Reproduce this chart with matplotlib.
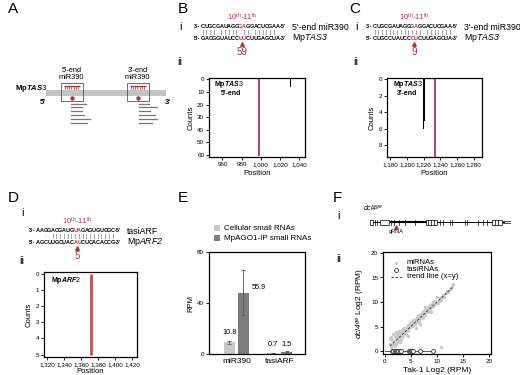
import matplotlib
matplotlib.use('Agg')
import matplotlib.pyplot as plt
from matplotlib.patches import Rectangle
from matplotlib.ticker import FuncFormatter

plt.rcParams['font.family'] = ['Liberation Sans', 'DejaVu Sans']
plt.rcParams['mathtext.fontset'] = 'custom'
plt.rcParams['mathtext.rm'] = 'Liberation Sans'
plt.rcParams['mathtext.it'] = 'Liberation Sans:italic:bold'
plt.rcParams['mathtext.bf'] = 'Liberation Sans:bold'
plt.rcParams['mathtext.sf'] = 'Liberation Sans:italic'

# ---------------- data ----------------
# Panel B / C / D sequences
b_mir = "CUGCGAUAGGGAGGACUCGAA"
b_pair = "|||| |||||.||.|||||| "
b_tgt = "GACGGUAUCCUUCUUGAGCUA"
c_mir = "CUGCGAUAGGGAGGACUCGAA"
c_pair = "|||||||||||||.|||||||"
c_tgt = "CUGCCUAUCCCUCUUGAGCUA"
d_mir = "AAGGACGAUGUAGAGUGUGGC"
d_pair = "  :.|||||||||||||||||"
d_tgt = "AGCUUGCUACAUCUCACACCG"
red_idx = [10, 11]
b_site_count = "59"
c_site_count = "9"
d_site_count = "5"

# Panel B degradome
b_pos = [1031]
b_cnt = [6]
b_cleave = 998
b_xticks = [960, 980, 1000, 1020, 1040]
b_yticks = [0, 10, 20, 30, 40, 50, 60]
# Panel C degradome
c_pos = [1220, 1221]
c_cnt = [6, 5.1]
c_cleave = 1234
c_xticks = [1180, 1200, 1220, 1240, 1260, 1280]
c_yticks = [0, 2, 4, 6, 8]
# Panel D degradome
d_cleave = 1372
d_cnt = 5
d_xticks = [1320, 1340, 1360, 1380, 1400, 1420]
d_yticks = [0, 1, 2, 3, 4, 5]

# Panel E
e_cats = ["miR390", "tasiARF"]
e_cell = [9.2, 0.5]
e_cell_err = [1.0, 0.3]
e_ago = [48.2, 1.5]
e_ago_err = [18.0, 0.6]
e_cell_lab = ["10.8", "0.7"]
e_ago_lab = ["55.9", "1.5"]

# Panel F
mir_x = [1.0, 1.1, 1.2, 1.3, 1.5, 1.6, 1.7, 1.8, 1.9, 2.0, 2.1, 2.2, 2.3, 2.4, 2.5, 2.6, 2.7,
         2.8, 2.9, 3.0, 3.1, 3.2, 3.3, 3.4, 3.5, 3.6, 3.7, 3.8, 3.9, 4.0, 4.1, 4.2, 4.3, 4.4,
         4.5, 4.6, 4.7, 4.8, 4.9, 5.0, 5.1, 5.2, 5.3, 5.4, 5.5, 5.6, 5.7, 5.8, 5.9, 6.0, 6.1,
         6.2, 6.3, 6.4, 6.5, 6.6, 6.7, 6.8, 6.9, 7.0, 7.1, 7.2, 7.3, 7.4, 7.5, 7.6, 7.7, 7.8,
         7.9, 8.0, 8.1, 8.3, 8.4, 8.6, 8.7, 8.9, 9.0, 9.2, 9.4, 9.5, 9.7, 9.9, 10.0, 10.2,
         10.4, 10.6, 10.8, 11.0, 11.2, 11.4, 11.7, 11.9, 12.1, 12.4, 12.6, 12.8, 13.0, 10.7,
         3.0, 4.4, 5.9, 6.7, 2.2, 7.8, 8.8, 1.4, 3.6, 5.2, 6.4, 7.3, 8.2, 9.3, 4.9, 2.6]
mir_y = [1.4, 2.4, 0.8, 2.9, 1.2, 3.4, 2.0, 1.7, 3.0, 1.0, 2.6, 3.8, 2.1, 3.3, 1.8, 3.0, 2.4,
         4.1, 2.7, 3.6, 2.2, 3.2, 4.3, 2.9, 3.9, 3.3, 4.6, 3.6, 4.0, 4.4, 3.5, 4.9, 4.1, 5.3,
         4.3, 5.0, 4.6, 5.6, 4.9, 5.3, 6.0, 5.1, 5.7, 5.4, 6.3, 5.6, 6.0, 5.5, 6.6, 6.2, 5.9,
         6.8, 6.4, 7.0, 6.1, 7.2, 6.7, 7.4, 6.9, 7.1, 7.7, 7.3, 6.8, 7.9, 7.6, 8.1, 7.4, 8.3,
         7.9, 8.6, 8.2, 8.0, 8.9, 8.5, 9.4, 8.9, 9.6, 9.1, 9.9, 9.4, 10.2, 9.7, 11.1, 9.9,
         10.3, 10.8, 10.5, 11.0, 11.4, 11.0, 11.8, 12.2, 12.0, 12.6, 12.9, 13.3, 13.6, 0.9,
         1.9, 3.0, 4.8, 5.5, 1.5, 8.9, 7.9, 2.2, 4.4, 5.9, 7.3, 7.9, 9.0, 10.0, 5.8, 3.6]
tasi_x = [1.4, 1.6, 1.9, 2.1, 2.4, 2.6, 2.9, 3.2, 4.6, 4.8, 5.0, 5.2, 5.5, 6.7, 9.2]
tasi_y = [0, 0, 0, 0, 0, 0, 0, 0, 0, 0, 0, 0, 0, 0, 0]
trend = [1.0, 13.0]

RED = "#b0363a"
LGRAY = "#c9c9c9"
DGRAY = "#7d7d7d"
W, H = 520, 375

fig = plt.figure(figsize=(5.2, 3.75), dpi=100)
ov = fig.add_axes([0, 0, 1, 1])
ov.set_xlim(0, W)
ov.set_ylim(H, 0)
ov.axis('off')


def axpx(l, t, r, b):
    return fig.add_axes([l / W, 1 - b / H, (r - l) / W, (b - t) / H])


def style(ax):
    for s in ax.spines.values():
        s.set_linewidth(0.9)
    ax.tick_params(labelsize=4.5, length=2, width=0.6, pad=1.5)


def comma(v, p):
    return f"{v:,.0f}"


# ---------------- panel letters ----------------
for lab, x, y in [("A", 8, 9), ("B", 178, 9), ("C", 349, 9), ("D", 8, 198), ("E", 178, 198), ("F", 333, 198)]:
    ov.text(x, y, lab, fontsize=11, ha='left', va='center')

# ---------------- Panel A ----------------
ov.add_patch(Rectangle((46, 90), 120, 5.5, color="#c3c3c3", lw=0))
ov.text(15, 88, r"$\mathbf{Mp}\mathit{TAS3}$", fontsize=5.5, ha='left', va='center')
ov.text(43, 102, "5'", fontsize=5.5, fontweight='bold', ha='center', va='center')
ov.text(168, 102, "3'", fontsize=5.5, fontweight='bold', ha='center', va='center')
for cx, lab in [(71.5, "5'-end\nmiR390"), (137.5, "3'-end\nmiR390")]:
    ov.add_patch(Rectangle((cx - 11, 83), 22, 18, fill=False, ec="#555555", lw=0.6))
    ov.plot([cx - 8, cx + 8], [86, 86], color=RED, lw=1.0, solid_capstyle='butt')
    for k in range(7):
        xx = cx - 7 + k * 2.33
        ov.plot([xx, xx], [86, 89], color=RED, lw=0.5)
    ov.plot([cx], [97.5], marker='o', ms=2.2, color=RED)
    ov.text(cx, 74, lab, fontsize=5.3, ha='center', va='center', linespacing=1.1)
for y, x1 in zip([103.5, 107, 110.5, 114.5, 118.5, 122.5], [86, 81.5, 81.5, 83.5, 90, 86.5]):
    ov.plot([71, x1], [y, y], color="#777777", lw=0.9)
for y, x1 in zip([103.5, 107, 110.5, 114.5, 118.5, 122.5], [148.5, 156.5, 150, 155, 157, 152]):
    ov.plot([139, x1], [y, y], color="#777777", lw=0.9)


# ---------------- sequences ----------------
def seq_block(x0, y1, mir, pair, tgt, lab1, lab2, site, pitch=3.75, fs=4.0):
    n = len(mir)
    xr = x0 + (red_idx[0] + 1) * pitch
    ov.text(xr, y1 - 10, r"10$^{\rm th}$-11$^{\rm th}$", color=RED, fontsize=5.5, ha='center', va='center')
    for yy, pre, s, suf, lab in [(y1, "3'-", mir, "-5'", lab1), (y1 + 11, "5'-", tgt, "-3'", lab2)]:
        ov.text(x0 - 0.5, yy, pre, fontsize=fs, fontweight='bold', ha='right', va='center')
        for i, ch in enumerate(s):
            ov.text(x0 + (i + 0.5) * pitch, yy, ch, fontsize=fs, fontweight='bold', ha='center', va='center',
                    color=RED if i in red_idx else 'black')
        ov.text(x0 + n * pitch + 0.5, yy, suf, fontsize=fs, fontweight='bold', ha='left', va='center')
        ov.text(x0 + n * pitch + 12, yy, lab, fontsize=6.3, ha='left', va='center')
    for i, ch in enumerate(pair):
        if ch != ' ':
            ov.text(x0 + (i + 0.5) * pitch, y1 + 5.5, ch, fontsize=3.6, color="#444444", ha='center', va='center')
    ov.plot([xr], [y1 + 17], marker='^', ms=2.6, color=RED, mec=RED)
    ov.text(xr, y1 + 25, site, fontsize=7, color=RED, ha='center', va='center')


seq_block(201, 27, b_mir, b_pair, b_tgt, "5'-end miR390", r"Mp$\mathsf{TAS3}$", b_site_count)
seq_block(373, 27, c_mir, c_pair, c_tgt, "3'-end miR390", r"Mp$\mathsf{TAS3}$", c_site_count)
seq_block(36, 231, d_mir, d_pair, d_tgt, "tasiARF", r"Mp$\mathsf{ARF2}$", d_site_count)

for x, y, s in [(180, 27, "i"), (180, 62, "ii"), (356, 27, "i"), (356, 62, "ii"),
                (22, 213, "i"), (22, 261, "ii"), (339, 216, "i"), (339, 259, "ii")]:
    ov.text(x, y, s, fontsize=8, ha='center', va='center')

# ---------------- Panel B ii ----------------
axb = axpx(209, 78, 305, 157)
axb.vlines(b_cleave, 0, 61, color="#9c2a2c", lw=1.2)
axb.bar(b_pos, b_cnt, width=0.6, color='black')
axb.set_xlim(946, 1046)
axb.set_ylim(61.5, -1)
axb.set_xticks(b_xticks)
axb.set_yticks(b_yticks)
axb.xaxis.set_major_formatter(FuncFormatter(comma))
axb.set_xlabel("Position", fontsize=5.5, labelpad=2)
axb.set_ylabel("Counts", fontsize=5.5, labelpad=2)
axb.text(0.05, 0.92, r"$\mathbf{Mp}\mathit{TAS3}$", transform=axb.transAxes, fontsize=5, ha='left', va='center')
axb.text(0.12, 0.80, r"5'-end", transform=axb.transAxes, fontsize=5, fontweight='bold', ha='left', va='center')
style(axb)

# ---------------- Panel C ii ----------------
axc = axpx(387, 78, 482, 157)
axc.vlines(c_cleave, 0, 9.4, color="#9c2a2c", lw=1.2)
axc.bar(c_pos[0], c_cnt[0], width=0.5, color='black')
axc.bar(c_pos[1], c_cnt[1], width=1.4, color='black')
axc.set_xlim(1176, 1290)
axc.set_ylim(9.4, -0.15)
axc.set_xticks(c_xticks)
axc.set_yticks(c_yticks)
axc.xaxis.set_major_formatter(FuncFormatter(comma))
axc.set_xlabel("Position", fontsize=5.5, labelpad=2)
axc.set_ylabel("Counts", fontsize=5.5, labelpad=2)
axc.text(0.06, 0.92, r"$\mathbf{Mp}\mathit{TAS3}$", transform=axc.transAxes, fontsize=5, ha='left', va='center')
axc.text(0.10, 0.80, r"3'-end", transform=axc.transAxes, fontsize=5, fontweight='bold', ha='left', va='center')
style(axc)

# ---------------- Panel D ii ----------------
axd = axpx(44, 272, 137, 357)
axd.vlines(d_cleave, 0, d_cnt, color="#c0504d", lw=2.0)
axd.set_xlim(1316, 1426)
axd.set_ylim(5.15, -0.1)
axd.set_xticks(d_xticks)
axd.set_yticks(d_yticks)
axd.xaxis.set_major_formatter(FuncFormatter(comma))
axd.set_xlabel("Position", fontsize=5.5, labelpad=1)
axd.set_ylabel("Counts", fontsize=5.5, labelpad=2)
axd.text(0.08, 0.9, r"$\mathbf{Mp}\mathit{ARF2}$", transform=axd.transAxes, fontsize=5, ha='left', va='center')
style(axd)

# ---------------- Panel E ----------------
axe = axpx(209, 252, 305, 354)
xs = [0, 1]
off, bw = 0.16, 0.25
axe.bar([x - off for x in xs], e_cell, width=bw, color=LGRAY, yerr=e_cell_err,
        error_kw=dict(ecolor="#555555", elinewidth=0.6, capsize=1.2, capthick=0.6))
axe.bar([x + off for x in xs], e_ago, width=bw, color=DGRAY, yerr=e_ago_err,
        error_kw=dict(ecolor="#555555", elinewidth=0.6, capsize=1.2, capthick=0.6))
axe.text(0 - off, e_cell[0] + 5, e_cell_lab[0], fontsize=5.3, ha='center', va='bottom')
axe.text(0 + off + 0.2, e_ago[0] + 1, e_ago_lab[0], fontsize=5.3, ha='left', va='bottom')
axe.text(1 - off, 5, e_cell_lab[1], fontsize=5.3, ha='center', va='bottom')
axe.text(1 + off, 5, e_ago_lab[1], fontsize=5.3, ha='center', va='bottom')
axe.set_xlim(-0.63, 1.58)
axe.set_ylim(0, 80)
axe.set_yticks([0, 40, 80])
axe.set_xticks(xs)
axe.set_xticklabels(e_cats, fontsize=6)
axe.set_ylabel("RPM", fontsize=5.5, labelpad=2)
style(axe)
axe.tick_params(axis='x', length=0, labelsize=6, pad=3)
for y, c, t in [(228, LGRAY, "Cellular small RNAs"), (238, DGRAY, "MpAGO1-IP small RNAs")]:
    ov.add_patch(Rectangle((214, y - 3), 6, 6, color=c, lw=0))
    ov.text(224, y, t, fontsize=5.8, ha='left', va='center')

# ---------------- Panel F i (gene model) ----------------
ov.text(363, 208, r"$\mathsf{dcl4}^{\mathsf{ge}}$", fontsize=5, ha='left', va='center')
gene_y = 222
ov.plot([371, 504], [gene_y, gene_y], color='black', lw=0.7)
ov.plot([389, 426], [gene_y, gene_y], color='black', lw=1.5)
ov.plot([503, 510], [gene_y - 1, gene_y - 1], color='black', lw=0.5)
ov.plot([503, 510], [gene_y + 1, gene_y + 1], color='black', lw=0.5)
exon_boxes = [(370, 373), (380, 389), (426, 437), (492, 502)]
exon_ticks = [375, 377, 391, 394, 399, 405, 415, 428, 431, 434, 440, 443, 450, 452,
              465, 467, 478, 483, 487, 495, 498]
for a, b in exon_boxes:
    ov.add_patch(Rectangle((a, gene_y - 2.5), b - a, 5, fill=True, fc='white', ec='black', lw=0.5, zorder=3))
for t in exon_ticks:
    ov.plot([t, t], [gene_y - 2.5, gene_y + 2.5], color='black', lw=0.5, zorder=4)
ov.plot([396], [gene_y + 5], marker='^', ms=2.4, color=RED, mec=RED)
ov.text(396, gene_y + 10, "gRNA", fontsize=4, ha='center', va='center')

# ---------------- Panel F ii ----------------
axf = axpx(383, 252, 491, 354)
axf.scatter(mir_x, mir_y, s=6, color=LGRAY, lw=0, zorder=2)
axf.plot([0, 9.5], [0, 0], color="#444444", lw=0.6, zorder=2)
axf.scatter(tasi_x, tasi_y, s=8, facecolors='white', edgecolors="#333333", lw=0.6, zorder=3)
axf.plot(trend, trend, ls=(0, (3, 2)), color="#333333", lw=0.6, zorder=4)
axf.set_xlim(-0.3, 20.3)
axf.set_ylim(-0.6, 20.2)
axf.set_xticks([0, 5, 10, 15, 20])
axf.set_yticks([0, 5, 10, 15, 20])
axf.set_xlabel("Tak-1 Log2 (RPM)", fontsize=6, labelpad=2)
axf.set_ylabel(r"$\mathsf{dcl4}^{\mathsf{ge}}$ Log2 (RPM)", fontsize=6, labelpad=3)
style(axf)
axf.scatter([2.2], [18.0], s=6, color=LGRAY, lw=0)
axf.scatter([2.2], [16.6], s=8, facecolors='white', edgecolors="#333333", lw=0.6)
axf.plot([1.2, 3.4], [15.2, 15.2], ls=(0, (3, 2)), color="#333333", lw=0.6)
axf.text(4.2, 18.0, "miRNAs", fontsize=5.5, va='center')
axf.text(4.2, 16.6, "tasiRNAs", fontsize=5.5, va='center')
axf.text(4.2, 15.2, "trend line (x=y)", fontsize=5.5, va='center')

fig.savefig("out.png", dpi=100)
